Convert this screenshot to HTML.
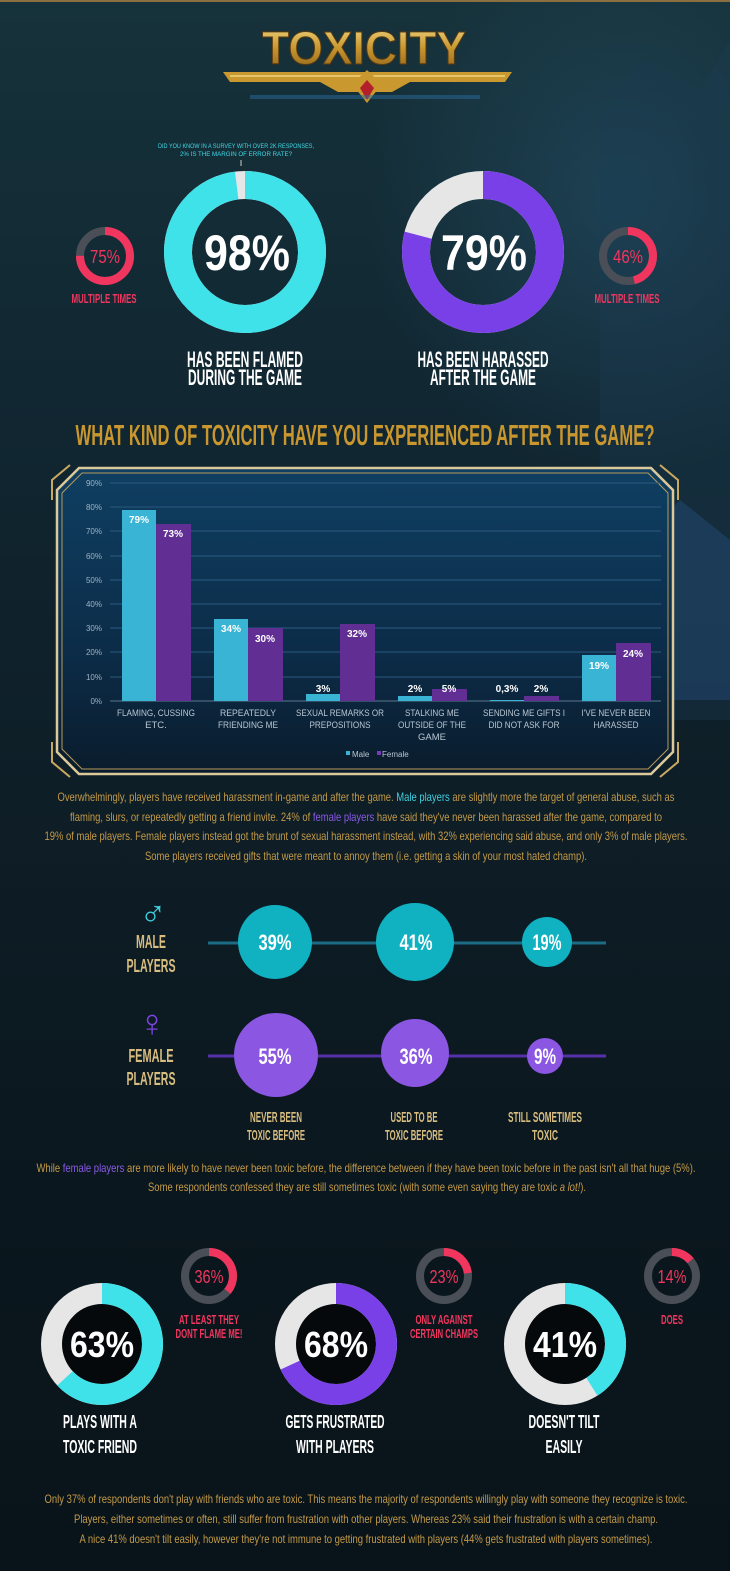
<!DOCTYPE html>
<html><head><meta charset="utf-8"><style>
html,body{margin:0;padding:0;background:#0c1a22;}
svg{display:block;}
text{font-family:"Liberation Sans",sans-serif;}
.b{font-weight:bold;}
</style></head><body>
<svg width="730" height="1571" viewBox="0 0 730 1571" xmlns="http://www.w3.org/2000/svg">
<defs>
<linearGradient id="bg" x1="0" y1="0" x2="0" y2="1">
<stop offset="0" stop-color="#16323a"/><stop offset="0.25" stop-color="#112732"/><stop offset="0.5" stop-color="#0e1e27"/><stop offset="0.75" stop-color="#0b171e"/><stop offset="1" stop-color="#09141a"/>
</linearGradient>
<radialGradient id="glow" cx="0.85" cy="0.25" r="0.35">
<stop offset="0" stop-color="#2a5a78" stop-opacity="0.45"/><stop offset="1" stop-color="#2a5a78" stop-opacity="0"/>
</radialGradient>
<linearGradient id="chartbg" x1="0" y1="0" x2="0" y2="1">
<stop offset="0" stop-color="#0f3f62"/><stop offset="0.6" stop-color="#0c2c48"/><stop offset="1" stop-color="#0a1c2c"/>
</linearGradient>
<linearGradient id="gold" x1="0" y1="0" x2="0" y2="1">
<stop offset="0" stop-color="#f3dc8a"/><stop offset="0.5" stop-color="#c8962f"/><stop offset="1" stop-color="#8a5f1a"/>
</linearGradient>
</defs>
<rect width="730" height="1571" fill="url(#bg)"/>
<rect width="730" height="800" fill="url(#glow)"/>
<path d="M600 120 L640 60 L700 90 L730 40 L730 720 L600 720 Z" fill="#1d3d52" opacity="0.35"/>
<path d="M620 560 L680 500 L730 540 L730 700 L610 700 Z" fill="#2d5f9a" opacity="0.3"/>
<rect x="0" y="0" width="730" height="2" fill="#8a7040"/>

<!-- Title -->
<text x="364" y="64" text-anchor="middle" class="b" font-size="46" fill="url(#gold)" stroke="#5a3a10" stroke-width="1" textLength="204" lengthAdjust="spacingAndGlyphs">TOXICITY</text>
<path d="M223 72 L512 72 L505 82 L410 82 L392 92 L338 92 L320 82 L230 82 Z" fill="#c9982e"/>
<path d="M230 76 L505 76" stroke="#f0d27a" stroke-width="1.5"/>
<path d="M352 84 L367 70 L382 84 L367 103 Z" fill="#c9982e"/>
<path d="M360 88 L367 80 L374 88 L367 100 Z" fill="#b3202a"/>
<rect x="250" y="95" width="230" height="4" fill="#2a6a9a" opacity="0.5"/>

<!-- Note -->
<text x="236" y="148" text-anchor="middle" font-size="6.5" fill="#3fd8e6" textLength="156" lengthAdjust="spacingAndGlyphs">DID YOU KNOW IN A SURVEY WITH OVER 2K RESPONSES,</text>
<text x="236" y="156" text-anchor="middle" font-size="6.5" fill="#3fd8e6" textLength="112" lengthAdjust="spacingAndGlyphs">2% IS THE MARGIN OF ERROR RATE?</text>
<rect x="240.5" y="160" width="1" height="6" fill="#ccc"/>

<!-- Big donut 1 -->
<circle cx="245" cy="252" r="67" fill="none" stroke="#e6e6e6" stroke-width="28"/>
<circle cx="245" cy="252" r="67" fill="none" stroke="#40e2ea" stroke-width="28" stroke-dasharray="412.5 500" transform="rotate(-90 245 252)"/>
<text x="247" y="270" text-anchor="middle" class="b" font-size="50" fill="#fff" textLength="86" lengthAdjust="spacingAndGlyphs">98%</text>
<!-- Big donut 2 -->
<circle cx="483" cy="252" r="67" fill="none" stroke="#e6e6e6" stroke-width="28"/>
<circle cx="483" cy="252" r="67" fill="none" stroke="#7a40e8" stroke-width="28" stroke-dasharray="332.6 500" transform="rotate(-90 483 252)"/>
<text x="484" y="270" text-anchor="middle" class="b" font-size="50" fill="#fff" textLength="86" lengthAdjust="spacingAndGlyphs">79%</text>

<!-- small donuts top -->
<circle cx="105" cy="256" r="25" fill="none" stroke="#4a4e57" stroke-width="8"/>
<circle cx="105" cy="256" r="25" fill="none" stroke="#f0365e" stroke-width="8" stroke-dasharray="117.8 200" transform="rotate(-90 105 256)"/>
<text x="105" y="263" text-anchor="middle" font-size="18" fill="#f0365e" textLength="30" lengthAdjust="spacingAndGlyphs">75%</text>
<text x="104" y="303" text-anchor="middle" class="b" font-size="13" fill="#f0365e" textLength="65" lengthAdjust="spacingAndGlyphs">MULTIPLE TIMES</text>
<circle cx="628" cy="256" r="25" fill="none" stroke="#4a4e57" stroke-width="8"/>
<circle cx="628" cy="256" r="25" fill="none" stroke="#f0365e" stroke-width="8" stroke-dasharray="72.3 200" transform="rotate(-90 628 256)"/>
<text x="628" y="263" text-anchor="middle" font-size="18" fill="#f0365e" textLength="30" lengthAdjust="spacingAndGlyphs">46%</text>
<text x="627" y="303" text-anchor="middle" class="b" font-size="13" fill="#f0365e" textLength="65" lengthAdjust="spacingAndGlyphs">MULTIPLE TIMES</text>

<text x="245" y="367" text-anchor="middle" class="b" font-size="22" fill="#fff" textLength="116" lengthAdjust="spacingAndGlyphs">HAS BEEN FLAMED</text>
<text x="245" y="385" text-anchor="middle" class="b" font-size="22" fill="#fff" textLength="114" lengthAdjust="spacingAndGlyphs">DURING THE GAME</text>
<text x="483" y="367" text-anchor="middle" class="b" font-size="22" fill="#fff" textLength="131" lengthAdjust="spacingAndGlyphs">HAS BEEN HARASSED</text>
<text x="483" y="385" text-anchor="middle" class="b" font-size="22" fill="#fff" textLength="106" lengthAdjust="spacingAndGlyphs">AFTER THE GAME</text>

<!-- Heading -->
<text x="365" y="445" text-anchor="middle" class="b" font-size="29" fill="#c9972e" textLength="579" lengthAdjust="spacingAndGlyphs">WHAT KIND OF TOXICITY HAVE YOU EXPERIENCED AFTER THE GAME?</text>

<!-- Chart frame -->
<path d="M79 468 L651 468 L673 490 L673 752 L651 774 L79 774 L57 752 L57 490 Z" fill="url(#chartbg)"/>
<path d="M79 468 L651 468 L673 490 L673 752 L651 774 L79 774 L57 752 L57 490 Z" fill="none" stroke="#dcc999" stroke-width="2.5"/>
<path d="M82 473 L648 473 L668 493 L668 749 L648 769 L82 769 L62 749 L62 493 Z" fill="none" stroke="#b89a5a" stroke-width="1"/>
<path d="M52 500 L52 480 L70 465 M678 500 L678 480 L660 465 M52 742 L52 762 L70 777 M678 742 L678 762 L660 777" fill="none" stroke="#c9a860" stroke-width="2"/>

<g font-size="8" fill="#9fb3c4" text-anchor="end">
<text x="102" y="486">90%</text><text x="102" y="510">80%</text><text x="102" y="534">70%</text><text x="102" y="559">60%</text><text x="102" y="583">50%</text><text x="102" y="607">40%</text><text x="102" y="631">30%</text><text x="102" y="655">20%</text><text x="102" y="680">10%</text><text x="102" y="704">0%</text>
</g>
<g stroke="#2a5a80" stroke-width="1">
<line x1="110" y1="483" x2="661" y2="483"/><line x1="110" y1="507" x2="661" y2="507"/><line x1="110" y1="531" x2="661" y2="531"/><line x1="110" y1="556" x2="661" y2="556"/><line x1="110" y1="580" x2="661" y2="580"/><line x1="110" y1="604" x2="661" y2="604"/><line x1="110" y1="628" x2="661" y2="628"/><line x1="110" y1="652" x2="661" y2="652"/><line x1="110" y1="677" x2="661" y2="677"/>
</g>
<line x1="110" y1="701" x2="661" y2="701" stroke="#5a7890" stroke-width="1"/>
<g fill="#3ab4d4">
<rect x="122" y="510" width="34" height="191"/>
<rect x="214" y="619" width="34" height="82"/>
<rect x="306" y="694" width="34" height="7"/>
<rect x="398" y="696" width="34" height="5"/>
<rect x="490" y="700" width="34" height="1"/>
<rect x="582" y="655" width="34" height="46"/>
</g>
<g fill="#612e94">
<rect x="156" y="524" width="35" height="177"/>
<rect x="248" y="628" width="35" height="73"/>
<rect x="340" y="624" width="35" height="77"/>
<rect x="432" y="689" width="35" height="12"/>
<rect x="524" y="696" width="35" height="5"/>
<rect x="616" y="643" width="35" height="58"/>
</g>
<g class="b" font-size="10" fill="#fff" text-anchor="middle">
<text x="139" y="523">79%</text><text x="173" y="537">73%</text>
<text x="231" y="632">34%</text><text x="265" y="642">30%</text>
<text x="323" y="692">3%</text><text x="357" y="637">32%</text>
<text x="415" y="692">2%</text><text x="449" y="692">5%</text>
<text x="507" y="692">0,3%</text><text x="541" y="692">2%</text>
<text x="599" y="669">19%</text><text x="633" y="657">24%</text>
</g>
<g font-size="9.5" fill="#b8c6d2" text-anchor="middle">
<text x="156" y="716" textLength="78" lengthAdjust="spacingAndGlyphs">FLAMING, CUSSING</text><text x="156" y="728">ETC.</text>
<text x="248" y="716" textLength="56" lengthAdjust="spacingAndGlyphs">REPEATEDLY</text><text x="248" y="728" textLength="60" lengthAdjust="spacingAndGlyphs">FRIENDING ME</text>
<text x="340" y="716" textLength="88" lengthAdjust="spacingAndGlyphs">SEXUAL REMARKS OR</text><text x="340" y="728" textLength="61" lengthAdjust="spacingAndGlyphs">PREPOSITIONS</text>
<text x="432" y="716" textLength="54" lengthAdjust="spacingAndGlyphs">STALKING ME</text><text x="432" y="728" textLength="68" lengthAdjust="spacingAndGlyphs">OUTSIDE OF THE</text><text x="432" y="740">GAME</text>
<text x="524" y="716" textLength="82" lengthAdjust="spacingAndGlyphs">SENDING ME GIFTS I</text><text x="524" y="728" textLength="71" lengthAdjust="spacingAndGlyphs">DID NOT ASK FOR</text>
<text x="616" y="716" textLength="69" lengthAdjust="spacingAndGlyphs">I'VE NEVER BEEN</text><text x="616" y="728" textLength="45" lengthAdjust="spacingAndGlyphs">HARASSED</text>
</g>
<rect x="346" y="751" width="4" height="4" fill="#3ab4d4"/><text x="352" y="757" font-size="8" fill="#b8c6d2">Male</text>
<rect x="377" y="751" width="4" height="4" fill="#7a3ab8"/><text x="382" y="757" font-size="8" fill="#b8c6d2">Female</text>

<!-- Paragraph 1 -->
<g font-size="12" fill="#c49a48" text-anchor="middle">
<text x="366" y="801" textLength="617" lengthAdjust="spacingAndGlyphs">Overwhelmingly, players have received harassment in-game and after the game. <tspan fill="#3fd0e0">Male players</tspan> are slightly more the target of general abuse, such as</text>
<text x="366" y="821" textLength="592" lengthAdjust="spacingAndGlyphs">flaming, slurs, or repeatedly getting a friend invite. 24% of <tspan fill="#8a5ae6">female players</tspan> have said they've never been harassed after the game, compared to</text>
<text x="366" y="840" textLength="643" lengthAdjust="spacingAndGlyphs">19% of male players. Female players instead got the brunt of sexual harassment instead, with 32% experiencing said abuse, and only 3% of male players.</text>
<text x="366" y="860" textLength="442" lengthAdjust="spacingAndGlyphs">Some players received gifts that were meant to annoy them (i.e. getting a skin of your most hated champ).</text>
</g>

<!-- Male row -->
<text x="153" y="926" text-anchor="middle" font-size="36" fill="#3fd0e0">♂</text>
<text x="151" y="948" text-anchor="middle" class="b" font-size="18" fill="#d8bd80" textLength="30" lengthAdjust="spacingAndGlyphs">MALE</text>
<text x="151" y="972" text-anchor="middle" class="b" font-size="18" fill="#d8bd80" textLength="49" lengthAdjust="spacingAndGlyphs">PLAYERS</text>
<line x1="208" y1="943" x2="606" y2="943" stroke="#1b6c84" stroke-width="3"/>
<circle cx="275" cy="942" r="37" fill="#10b2c2"/>
<circle cx="415" cy="942" r="39" fill="#10b2c2"/>
<circle cx="547" cy="942" r="25" fill="#10b2c2"/>
<g class="b" font-size="22" fill="#fff" text-anchor="middle">
<text x="275" y="950" textLength="33" lengthAdjust="spacingAndGlyphs">39%</text>
<text x="416" y="950" textLength="33" lengthAdjust="spacingAndGlyphs">41%</text>
<text x="547" y="950" textLength="29" lengthAdjust="spacingAndGlyphs">19%</text>
</g>
<!-- Female row -->
<text x="152" y="1036" text-anchor="middle" font-size="38" fill="#7a44e0">♀</text>
<text x="151" y="1062" text-anchor="middle" class="b" font-size="18" fill="#d8bd80" textLength="45" lengthAdjust="spacingAndGlyphs">FEMALE</text>
<text x="151" y="1085" text-anchor="middle" class="b" font-size="18" fill="#d8bd80" textLength="49" lengthAdjust="spacingAndGlyphs">PLAYERS</text>
<line x1="208" y1="1056" x2="606" y2="1056" stroke="#5530a8" stroke-width="3"/>
<circle cx="276" cy="1055" r="42" fill="#8a56e2"/>
<circle cx="415" cy="1053" r="34" fill="#8a56e2"/>
<circle cx="545" cy="1056" r="18" fill="#8a56e2"/>
<g class="b" font-size="22" fill="#fff" text-anchor="middle">
<text x="275" y="1064" textLength="33" lengthAdjust="spacingAndGlyphs">55%</text>
<text x="416" y="1064" textLength="33" lengthAdjust="spacingAndGlyphs">36%</text>
<text x="545" y="1064" textLength="22" lengthAdjust="spacingAndGlyphs">9%</text>
</g>
<g class="b" font-size="15" fill="#d8bd80" text-anchor="middle">
<text x="276" y="1122" textLength="52" lengthAdjust="spacingAndGlyphs">NEVER BEEN</text>
<text x="276" y="1140" textLength="58" lengthAdjust="spacingAndGlyphs">TOXIC BEFORE</text>
<text x="414" y="1122" textLength="47" lengthAdjust="spacingAndGlyphs">USED TO BE</text>
<text x="414" y="1140" textLength="58" lengthAdjust="spacingAndGlyphs">TOXIC BEFORE</text>
<text x="545" y="1122" textLength="74" lengthAdjust="spacingAndGlyphs">STILL SOMETIMES</text>
<text x="545" y="1140" textLength="26" lengthAdjust="spacingAndGlyphs">TOXIC</text>
</g>
<g font-size="12" fill="#c49a48" text-anchor="middle">
<text x="366" y="1172" textLength="659" lengthAdjust="spacingAndGlyphs">While <tspan fill="#8a5ae6">female players</tspan> are more likely to have never been toxic before, the difference between if they have been toxic before in the past isn't all that huge (5%).</text>
<text x="367" y="1191" textLength="438" lengthAdjust="spacingAndGlyphs">Some respondents confessed they are still sometimes toxic (with some even saying they are toxic <tspan font-style="italic">a lot!</tspan>).</text>
</g>

<!-- Bottom donuts -->
<circle cx="102" cy="1344" r="40" fill="#05090c"/>
<circle cx="102" cy="1344" r="50.5" fill="none" stroke="#e6e6e6" stroke-width="21"/>
<circle cx="102" cy="1344" r="50.5" fill="none" stroke="#40e2ea" stroke-width="21" stroke-dasharray="199.9 400" transform="rotate(-90 102 1344)"/>
<text x="102" y="1357" text-anchor="middle" class="b" font-size="36" fill="#fff" textLength="64" lengthAdjust="spacingAndGlyphs">63%</text>
<circle cx="336" cy="1344" r="40" fill="#05090c"/>
<circle cx="336" cy="1344" r="50.5" fill="none" stroke="#e6e6e6" stroke-width="21"/>
<circle cx="336" cy="1344" r="50.5" fill="none" stroke="#7a40e8" stroke-width="21" stroke-dasharray="215.8 400" transform="rotate(-90 336 1344)"/>
<text x="336" y="1357" text-anchor="middle" class="b" font-size="36" fill="#fff" textLength="64" lengthAdjust="spacingAndGlyphs">68%</text>
<circle cx="565" cy="1344" r="40" fill="#05090c"/>
<circle cx="565" cy="1344" r="50.5" fill="none" stroke="#e6e6e6" stroke-width="21"/>
<circle cx="565" cy="1344" r="50.5" fill="none" stroke="#40e2ea" stroke-width="21" stroke-dasharray="130.1 400" transform="rotate(-90 565 1344)"/>
<text x="565" y="1357" text-anchor="middle" class="b" font-size="36" fill="#fff" textLength="64" lengthAdjust="spacingAndGlyphs">41%</text>

<circle cx="209" cy="1276" r="24" fill="none" stroke="#4a4e57" stroke-width="8"/>
<circle cx="209" cy="1276" r="24" fill="none" stroke="#f0365e" stroke-width="8" stroke-dasharray="54.3 200" transform="rotate(-90 209 1276)"/>
<text x="209" y="1283" text-anchor="middle" font-size="18" fill="#f0365e" textLength="29" lengthAdjust="spacingAndGlyphs">36%</text>
<circle cx="444" cy="1276" r="24" fill="none" stroke="#4a4e57" stroke-width="8"/>
<circle cx="444" cy="1276" r="24" fill="none" stroke="#f0365e" stroke-width="8" stroke-dasharray="34.7 200" transform="rotate(-90 444 1276)"/>
<text x="444" y="1283" text-anchor="middle" font-size="18" fill="#f0365e" textLength="29" lengthAdjust="spacingAndGlyphs">23%</text>
<circle cx="672" cy="1276" r="24" fill="none" stroke="#4a4e57" stroke-width="8"/>
<circle cx="672" cy="1276" r="24" fill="none" stroke="#f0365e" stroke-width="8" stroke-dasharray="21.1 200" transform="rotate(-90 672 1276)"/>
<text x="672" y="1283" text-anchor="middle" font-size="18" fill="#f0365e" textLength="29" lengthAdjust="spacingAndGlyphs">14%</text>
<g class="b" font-size="13" fill="#f0365e" text-anchor="middle">
<text x="209" y="1324" textLength="60" lengthAdjust="spacingAndGlyphs">AT LEAST THEY</text>
<text x="209" y="1338" textLength="67" lengthAdjust="spacingAndGlyphs">DONT FLAME ME!</text>
<text x="444" y="1324" textLength="57" lengthAdjust="spacingAndGlyphs">ONLY AGAINST</text>
<text x="444" y="1338" textLength="68" lengthAdjust="spacingAndGlyphs">CERTAIN CHAMPS</text>
<text x="672" y="1324" textLength="22" lengthAdjust="spacingAndGlyphs">DOES</text>
</g>
<g class="b" font-size="18" fill="#fff" text-anchor="middle">
<text x="100" y="1428" textLength="74" lengthAdjust="spacingAndGlyphs">PLAYS WITH A</text>
<text x="100" y="1453" textLength="74" lengthAdjust="spacingAndGlyphs">TOXIC FRIEND</text>
<text x="335" y="1428" textLength="99" lengthAdjust="spacingAndGlyphs">GETS FRUSTRATED</text>
<text x="335" y="1453" textLength="78" lengthAdjust="spacingAndGlyphs">WITH PLAYERS</text>
<text x="564" y="1428" textLength="71" lengthAdjust="spacingAndGlyphs">DOESN'T TILT</text>
<text x="564" y="1453" textLength="37" lengthAdjust="spacingAndGlyphs">EASILY</text>
</g>
<g font-size="12" fill="#c49a48" text-anchor="middle">
<text x="366" y="1503" textLength="643" lengthAdjust="spacingAndGlyphs">Only 37% of respondents don't play with friends who are toxic. This means the majority of respondents willingly play with someone they recognize is toxic.</text>
<text x="366" y="1523" textLength="584" lengthAdjust="spacingAndGlyphs">Players, either sometimes or often, still suffer from frustration with other players. Whereas 23% said their frustration is with a certain champ.</text>
<text x="366" y="1543" textLength="573" lengthAdjust="spacingAndGlyphs">A nice 41% doesn't tilt easily, however they're not immune to getting frustrated with players (44% gets frustrated with players sometimes).</text>
</g>
</svg>
</body></html>
